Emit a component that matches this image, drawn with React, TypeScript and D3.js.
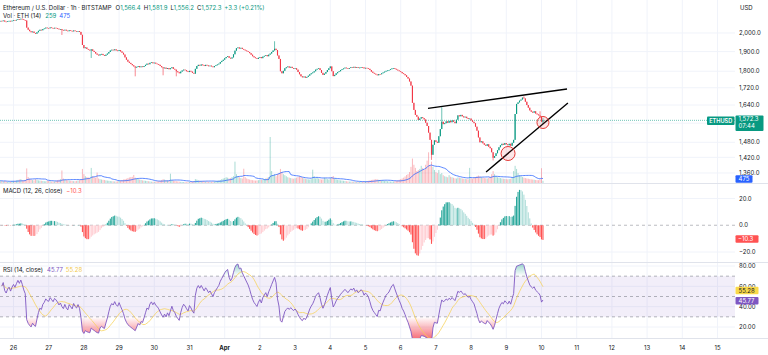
import React from "react";
import * as d3 from "d3";

const W = 768;
const H = 355;
const HOUR = 3600e3;
const startTime = Date.UTC(2025, 2, 25, 15);

// hourly closes (ETH/USD, 1h)
const closes: number[] = [
  2068, 2066, 2070, 2064, 2062, 2066, 2068, 2065, 2069, 2072, 2070, 2074, 2078, 2076, 2080, 2077, 2073, 2070, 2030, 2018, 2010, 2004, 2008, 2000,
  1996, 2004, 2012, 2018, 2015, 2022, 2025, 2030, 2027, 2026, 2031, 2028, 2025, 2029, 2027, 2024, 2020, 2022, 2017, 2014, 2018, 2013, 2010, 2015,
  2012, 2009, 2014, 2010, 2008, 2011, 2006, 1990, 1935, 1918, 1922, 1914, 1910, 1906, 1912, 1904, 1898, 1890, 1884, 1880, 1886, 1888, 1882, 1878,
  1884, 1890, 1898, 1906, 1910, 1907, 1912, 1906, 1903, 1908, 1901, 1894, 1885, 1870, 1858, 1848, 1842, 1836, 1830, 1824, 1818, 1822, 1826, 1820,
  1824, 1821, 1826, 1832, 1838, 1835, 1842, 1845, 1840, 1843, 1838, 1836, 1832, 1826, 1820, 1815, 1818, 1812, 1816, 1810, 1815, 1820, 1812, 1808,
  1800, 1795, 1790, 1798, 1804, 1808, 1805, 1800, 1796, 1802, 1798, 1792, 1788, 1812, 1826, 1832, 1828, 1834, 1830, 1826, 1832, 1829, 1825, 1828,
  1824, 1820, 1826, 1830, 1834, 1838, 1846, 1852, 1858, 1866, 1872, 1876, 1868, 1864, 1870, 1886, 1905, 1918, 1922, 1916, 1920, 1914, 1910, 1906,
  1902, 1898, 1892, 1884, 1876, 1870, 1866, 1862, 1868, 1872, 1866, 1874, 1878, 1882, 1876, 1884, 1890, 1898, 1906, 1915, 1908, 1880, 1862, 1800,
  1790, 1802, 1815, 1820, 1824, 1818, 1822, 1816, 1812, 1815, 1808, 1796, 1785, 1775, 1770, 1774, 1768, 1772, 1778, 1785, 1790, 1794, 1800, 1808,
  1812, 1815, 1806, 1792, 1782, 1788, 1796, 1806, 1815, 1824, 1800, 1776, 1782, 1790, 1796, 1800, 1806, 1810, 1814, 1818, 1815, 1812, 1816, 1820,
  1818, 1822, 1817, 1820, 1816, 1818, 1821, 1819, 1814, 1817, 1815, 1812, 1806, 1798, 1792, 1788, 1784, 1780, 1786, 1785, 1790, 1794, 1798, 1802,
  1804, 1806, 1810, 1814, 1816, 1812, 1808, 1804, 1800, 1796, 1790, 1786, 1780, 1772, 1764, 1750, 1730, 1650, 1618, 1596, 1588, 1574, 1580, 1586,
  1582, 1576, 1562, 1548, 1520, 1490, 1430, 1470, 1488, 1482, 1478, 1505, 1535, 1566, 1556, 1560, 1568, 1562, 1570, 1564, 1572, 1566, 1560, 1575,
  1594, 1590, 1596, 1590, 1585, 1588, 1582, 1578, 1580, 1572, 1566, 1560, 1545, 1528, 1500, 1480, 1484, 1476, 1470, 1466, 1472, 1462, 1456, 1440,
  1418, 1425, 1436, 1448, 1460, 1468, 1474, 1470, 1477, 1472, 1468, 1474, 1466, 1478, 1490, 1600, 1645, 1652, 1660, 1665, 1674, 1670, 1655, 1640,
  1628, 1616, 1610, 1606, 1612, 1602, 1598, 1594, 1588, 1566.4, 1572.3,
];

// hourly volume (ETH)
const volumes: number[] = [
  280, 240, 210, 260, 190, 170, 160, 180, 220, 250, 230, 300, 340, 380, 420, 310, 290, 350, 1450, 620, 480, 390, 330, 300,
  420, 360, 300, 280, 260, 240, 220, 210, 260, 240, 220, 190, 180, 200, 260, 310, 360, 420, 1250, 480, 390, 340, 300, 280,
  260, 240, 230, 220, 250, 280, 320, 380, 1400, 900, 700, 620, 580, 540, 1500, 720, 600, 560, 1050, 480, 420, 380, 360, 340,
  300, 280, 260, 240, 220, 210, 200, 190, 210, 240, 280, 320, 380, 420, 460, 520, 580, 620, 640, 820, 560, 480, 420, 380,
  340, 300, 280, 260, 240, 220, 200, 180, 170, 160, 180, 200, 220, 260, 340, 420, 380, 320, 300, 280, 940, 320, 280, 240,
  220, 200, 180, 160, 150, 140, 130, 120, 130, 140, 160, 180, 240, 420, 380, 300, 260, 240, 220, 200, 190, 180, 170, 160,
  170, 180, 200, 220, 260, 300, 340, 420, 480, 520, 600, 560, 480, 520, 620, 700, 2100, 900, 700, 600, 520, 480, 1420, 600,
  480, 420, 380, 340, 320, 300, 280, 300, 320, 340, 360, 380, 420, 480, 560, 620, 4470, 1200, 800, 900, 700, 900, 1000, 1400,
  1100, 900, 800, 700, 600, 560, 520, 480, 460, 500, 560, 620, 700, 640, 560, 500, 460, 420, 400, 380, 420, 1330, 700, 500,
  600, 480, 420, 380, 400, 560, 480, 420, 380, 520, 620, 720, 480, 400, 360, 320, 300, 280, 260, 240, 220, 200, 190, 180,
  180, 170, 160, 150, 140, 150, 160, 170, 180, 200, 220, 260, 300, 340, 360, 380, 420, 400, 360, 320, 300, 280, 260, 240,
  220, 200, 190, 180, 200, 220, 260, 300, 360, 420, 480, 560, 680, 820, 900, 1100, 1600, 2400, 1800, 1500, 1200, 1300, 1400, 1700,
  1500, 1300, 1800, 2200, 3000, 1700, 2100, 1600, 1300, 1100, 1000, 1300, 900, 1000, 800, 700, 650, 600, 800, 650, 600, 550, 500, 480,
  580, 560, 520, 480, 460, 440, 420, 400, 1500, 500, 460, 560, 620, 700, 760, 680, 600, 560, 520, 500, 480, 560, 640, 900,
  1200, 900, 700, 600, 560, 520, 480, 460, 440, 420, 400, 420, 450, 600, 1200, 1700, 1400, 1000, 800, 700, 620, 560, 520, 480,
  460, 420, 400, 380, 360, 340, 320, 320, 360, 1470, 259,
];

// notable wicks [hour index, price]
const highWicks: [number, number][] = [[187, 1955], [301, 1630], [357, 1680], [368, 1612], [370, 1581.9]];
const lowWicks: [number, number][] = [[42, 1989], [62, 1867], [92, 1775], [111, 1780], [120, 1775], [294, 1410], [336, 1408], [370, 1556.2]];

const dayLabels = ["26", "27", "28", "29", "30", "31", "Apr", "2", "3", "4", "5", "6", "7", "8", "9", "10", "11", "12", "13", "14", "15"];
const priceTicks = [2000, 1900, 1800, 1720, 1640, 1480, 1420, 1360];
const priceGrid = [2000, 1900, 1800, 1720, 1640, 1560, 1480, 1420, 1360];
const macdTicks = [20, 0, -20];
const rsiTicks = [80, 60, 40, 20];
const rsiBands = [70, 50, 30];

// drawings: [hour index, price]
const trendLines = [
  { t0: 291.6, p0: 1625, t1: 386.4, p1: 1714 },
  { t0: 331.2, p0: 1364, t1: 387.0, p1: 1649 },
];
const circles = [
  { t: 346.2, p: 1435, r: 7 },
  { t: 370.0, p: 1563, r: 6 },
];

const lastClose = 1572.3;

const UP = "#089981";
const DOWN = "#F23645";
const TEXT = "#131722";
const GRID = "#F0F3FA";
const SEP = "#E0E3EB";
const FONT = "Inter, Roboto, 'Noto Sans', sans-serif";

const PLOT_R = 735;

function ema(src: number[], len: number): number[] {
  const a = 2 / (len + 1);
  const out: number[] = [];
  let prev = src[0];
  src.forEach((v, i) => {
    prev = i === 0 ? v : a * v + (1 - a) * prev;
    out.push(prev);
  });
  return out;
}

const tOf = (i: number) => new Date(startTime + i * HOUR);

export default function App() {
  const x = d3
    .scaleUtc()
    .domain([new Date(Date.UTC(2025, 2, 26)), new Date(Date.UTC(2025, 3, 15))])
    .range([13.5, 717.5]);
  const yP = d3.scaleLog().domain([2190.3, 1323.0]).range([0, 183]);
  const yV = d3.scaleLinear().domain([0, 4470]).range([183.5, 137]);
  const yM = d3.scaleLinear().domain([20, -20]).range([198.5, 252]);
  const yR = d3.scaleLinear().domain([80, 20]).range([266, 327]);

  const hiMap = new Map(highWicks);
  const loMap = new Map(lowWicks);
  const candles = closes.map((c, i) => {
    const o = i === 0 ? c : closes[i - 1];
    const h = hiMap.has(i) ? (hiMap.get(i) as number) : Math.max(o, c);
    const l = loMap.has(i) ? (loMap.get(i) as number) : Math.min(o, c);
    return { i, t: tOf(i), o, h, l, c, v: volumes[i] };
  });

  // volume MA 14
  const volMA = volumes.map((_, i) => d3.mean(volumes.slice(Math.max(0, i - 13), i + 1)) as number);

  // MACD 12/26/9
  const e12 = ema(closes, 12);
  const e26 = ema(closes, 26);
  const macd = e12.map((v, i) => v - e26[i]);
  const sig = ema(macd, 9);
  const hist = macd.map((v, i) => v - sig[i]);

  // RSI 14 (Wilder)
  const ch = closes.map((c, i) => (i === 0 ? 0 : c - closes[i - 1]));
  let ag = (d3.mean(ch.slice(1, 15).map((d) => Math.max(d, 0))) as number);
  let al = (d3.mean(ch.slice(1, 15).map((d) => Math.max(-d, 0))) as number);
  const rsi: (number | null)[] = ch.map((d, i) => {
    if (i === 0) return null;
    ag = (ag * 13 + Math.max(d, 0)) / 14;
    al = (al * 13 + Math.max(-d, 0)) / 14;
    return al === 0 ? 100 : 100 - 100 / (1 + ag / al);
  });
  const rsiMA = rsi.map((_, i) => {
    const w = rsi.slice(Math.max(1, i - 13), i + 1).filter((v) => v !== null) as number[];
    return w.length ? (d3.mean(w) as number) : null;
  });

  const rsiLine = d3
    .line<number | null>()
    .defined((d) => d !== null)
    .x((_, i) => x(tOf(i)))
    .y((d) => yR(d as number));
  const volLine = d3
    .line<number>()
    .x((_, i) => x(tOf(i)))
    .y((d) => yV(d));
  const osArea = d3
    .area<number | null>()
    .defined((d) => d !== null)
    .x((_, i) => x(tOf(i)))
    .y0(yR(30))
    .y1((d) => yR(Math.min(d as number, 30)));
  const obArea = d3
    .area<number | null>()
    .defined((d) => d !== null)
    .x((_, i) => x(tOf(i)))
    .y0(yR(70))
    .y1((d) => yR(Math.max(d as number, 70)));

  const days = dayLabels.map((lab, k) => ({ lab, d: new Date(Date.UTC(2025, 2, 26 + k)) }));

  const histColor = (h: number, i: number) => {
    const prev = i === 0 ? 0 : hist[i - 1];
    if (h >= 0) return h > prev ? "#26A69A" : "#B2DFDB";
    return h < prev ? "#FF5252" : "#FFCDD2";
  };

  const lastY = yP(lastClose);

  return (
    <svg
      width={W}
      height={H}
      viewBox={`0 0 ${W} ${H}`}
      style={{ position: "absolute", left: 0, top: 0, display: "block", background: "#fff" }}
      fontFamily={FONT}
    >
      <defs>
        <clipPath id="pricePane">
          <rect x={0} y={0} width={PLOT_R} height={183} />
        </clipPath>
        <clipPath id="macdPane">
          <rect x={0} y={184} width={PLOT_R} height={78} />
        </clipPath>
        <clipPath id="rsiPane">
          <rect x={0} y={263} width={PLOT_R} height={75} />
        </clipPath>
        <linearGradient id="osGrad" gradientUnits="userSpaceOnUse" x1={0} x2={0} y1={yR(30)} y2={yR(0)}>
          <stop offset="0" stopColor="#F23645" stopOpacity={0} />
          <stop offset="1" stopColor="#F23645" stopOpacity={1} />
        </linearGradient>
        <linearGradient id="obGrad" gradientUnits="userSpaceOnUse" x1={0} x2={0} y1={yR(70)} y2={yR(100)}>
          <stop offset="0" stopColor="#089981" stopOpacity={0} />
          <stop offset="1" stopColor="#089981" stopOpacity={1} />
        </linearGradient>
      </defs>

      <rect x={0} y={0} width={W} height={H} fill="#fff" />

      {/* vertical grid */}
      {days.map(({ d }, k) => (
        <line key={"vg" + k} x1={x(d)} x2={x(d)} y1={0} y2={338} stroke={GRID} strokeWidth={1} />
      ))}
      {/* horizontal grids */}
      {priceGrid.map((p) => (
        <line key={"pg" + p} x1={0} x2={PLOT_R} y1={yP(p)} y2={yP(p)} stroke={GRID} strokeWidth={1} />
      ))}
      {[20, -20].map((m) => (
        <line key={"mg" + m} x1={0} x2={PLOT_R} y1={yM(m)} y2={yM(m)} stroke={GRID} strokeWidth={1} />
      ))}
      {rsiTicks.map((r) => (
        <line key={"rg" + r} x1={0} x2={PLOT_R} y1={yR(r)} y2={yR(r)} stroke={GRID} strokeWidth={1} />
      ))}

      {/* pane separators */}
      <line x1={0} x2={W} y1={183.5} y2={183.5} stroke={SEP} />
      <line x1={0} x2={W} y1={262.5} y2={262.5} stroke={SEP} />
      <line x1={0} x2={W} y1={338.5} y2={338.5} stroke={SEP} />

      {/* price pane */}
      <g clipPath="url(#pricePane)">
        {candles.map((c) => (
          <rect
            key={"v" + c.i}
            x={x(c.t) - 0.5}
            y={yV(c.v)}
            width={1}
            height={yV(0) - yV(c.v)}
            fill={c.c >= c.o ? UP : DOWN}
            opacity={0.35}
          />
        ))}
        <path d={volLine(volMA) || ""} fill="none" stroke="#2962FF" strokeWidth={0.9} opacity={0.85} />
        <line x1={0} x2={PLOT_R} y1={lastY} y2={lastY} stroke={UP} strokeWidth={0.8} strokeDasharray="1 1" opacity={0.7} />
        {candles.map((c) => {
          const cx = x(c.t);
          const col = c.c >= c.o ? UP : DOWN;
          const yo = yP(c.o);
          const yc = yP(c.c);
          return (
            <g key={"c" + c.i}>
              <line x1={cx} x2={cx} y1={yP(c.h)} y2={yP(c.l)} stroke={col} strokeWidth={0.6} />
              <rect x={cx - 0.55} y={Math.min(yo, yc)} width={1.1} height={Math.max(0.7, Math.abs(yo - yc))} fill={col} />
            </g>
          );
        })}
        {trendLines.map((l, k) => (
          <line
            key={"tl" + k}
            x1={x(tOf(l.t0))}
            y1={yP(l.p0)}
            x2={x(tOf(l.t1))}
            y2={yP(l.p1)}
            stroke="#000"
            strokeWidth={1.4}
          />
        ))}
        {circles.map((c, k) => (
          <circle
            key={"ci" + k}
            cx={x(tOf(c.t))}
            cy={yP(c.p)}
            r={c.r}
            fill="rgba(242,54,69,0.12)"
            stroke="#E53935"
            strokeWidth={1}
          />
        ))}
      </g>

      {/* MACD pane */}
      <g clipPath="url(#macdPane)">
        <line x1={0} x2={PLOT_R} y1={yM(0)} y2={yM(0)} stroke="#787B86" strokeOpacity={0.5} strokeDasharray="3 3" />
        {hist.map((h, i) => (
          <rect
            key={"h" + i}
            x={x(tOf(i)) - 0.55}
            y={Math.min(yM(0), yM(h))}
            width={1.1}
            height={Math.abs(yM(h) - yM(0))}
            fill={histColor(h, i)}
          />
        ))}
      </g>

      {/* RSI pane */}
      <g clipPath="url(#rsiPane)">
        <rect x={0} y={yR(70)} width={PLOT_R} height={yR(30) - yR(70)} fill="rgba(126,87,194,0.1)" />
        {rsiBands.map((b) => (
          <line
            key={"rb" + b}
            x1={0}
            x2={PLOT_R}
            y1={yR(b)}
            y2={yR(b)}
            stroke="#787B86"
            strokeOpacity={0.55}
            strokeDasharray="3 3"
          />
        ))}
        <path d={osArea(rsi) || ""} fill="url(#osGrad)" />
        <path d={obArea(rsi) || ""} fill="url(#obGrad)" />
        <path d={rsiLine(rsiMA) || ""} fill="none" stroke="#F7D154" strokeWidth={1} opacity={0.75} />
        <path d={rsiLine(rsi) || ""} fill="none" stroke="#7E57C2" strokeWidth={0.9} />
      </g>

      {/* legends */}
      <text x={3} y={10} fontSize={6} fill={TEXT}>
        <tspan>Ethereum / U.S. Dollar · 1h · BITSTAMP</tspan>
        <tspan dx={4}>O</tspan>
        <tspan fill={UP}>1,566.4</tspan>
        <tspan dx={3}>H</tspan>
        <tspan fill={UP}>1,581.9</tspan>
        <tspan dx={3}>L</tspan>
        <tspan fill={UP}>1,556.2</tspan>
        <tspan dx={3}>C</tspan>
        <tspan fill={UP}>1,572.3</tspan>
        <tspan dx={3} fill={UP}>+3.3 (+0.21%)</tspan>
      </text>
      <text x={3} y={18} fontSize={6} fill={TEXT}>
        <tspan>Vol · ETH (14)</tspan>
        <tspan dx={4} fill={UP}>259</tspan>
        <tspan dx={3} fill="#2962FF">475</tspan>
      </text>
      <text x={3} y={193} fontSize={6} fill={TEXT}>
        <tspan>MACD (12, 26, close)</tspan>
        <tspan dx={4} fill="#FF5252">−10.3</tspan>
      </text>
      <text x={3} y={272} fontSize={6} fill={TEXT}>
        <tspan>RSI (14, close)</tspan>
        <tspan dx={4} fill="#7E57C2">45.77</tspan>
        <tspan dx={3} fill="#F2C94C">55.28</tspan>
      </text>

      {/* right axis */}
      <text x={740} y={10} fontSize={6} fill={TEXT}>USD</text>
      {priceTicks.map((p) => (
        <text key={"pt" + p} x={739} y={yP(p) + 2.2} fontSize={6} fill={TEXT}>
          {d3.format(",.1f")(p)}
        </text>
      ))}
      {macdTicks.map((m) => (
        <text key={"mt" + m} x={739} y={yM(m) + 2.2} fontSize={6} fill={TEXT}>
          {m < 0 ? "−" + d3.format(".1f")(-m) : d3.format(".1f")(m)}
        </text>
      ))}
      {rsiTicks.map((r) => (
        <text key={"rt" + r} x={739} y={yR(r) + 2.2} fontSize={6} fill={TEXT}>
          {d3.format(".2f")(r)}
        </text>
      ))}

      {/* value boxes */}
      <rect x={707} y={116.5} width={27.5} height={8.5} fill={UP} rx={1} />
      <text x={720.75} y={122.8} fontSize={5.6} fill="#fff" textAnchor="middle" fontWeight={600}>ETHUSD</text>
      <rect x={735.5} y={115.5} width={28} height={15.5} fill={UP} rx={1} />
      <text x={738.5} y={120.8} fontSize={6} fill="#fff">1,572.3</text>
      <text x={738.5} y={128.2} fontSize={6} fill="#fff">07:44</text>

      <rect x={735.5} y={175.2} width={17} height={7.6} fill="#2962FF" rx={1} />
      <text x={738.5} y={181.2} fontSize={6} fill="#fff">475</text>

      <rect x={735.5} y={yM(-10.3) - 3.8} width={23} height={7.6} fill="#FF5252" rx={1} />
      <text x={738} y={yM(-10.3) + 2.2} fontSize={6} fill="#fff">−10.3</text>

      <rect x={735.5} y={yR(55.28) - 4.4} width={23} height={7.6} fill="#F9D94A" rx={1} />
      <text x={738.5} y={yR(55.28) + 1.6} fontSize={6} fill={TEXT}>55.28</text>
      <rect x={735.5} y={yR(45.77) - 3.8} width={23} height={7.6} fill="#7E57C2" rx={1} />
      <text x={738.5} y={yR(45.77) + 2.2} fontSize={6} fill="#fff">45.77</text>

      {/* time axis */}
      {days.map(({ lab, d }, k) => (
        <text
          key={"dl" + k}
          x={x(d)}
          y={350}
          fontSize={6}
          fill={TEXT}
          textAnchor="middle"
          fontWeight={lab === "Apr" ? 700 : 400}
        >
          {lab}
        </text>
      ))}
    </svg>
  );
}
